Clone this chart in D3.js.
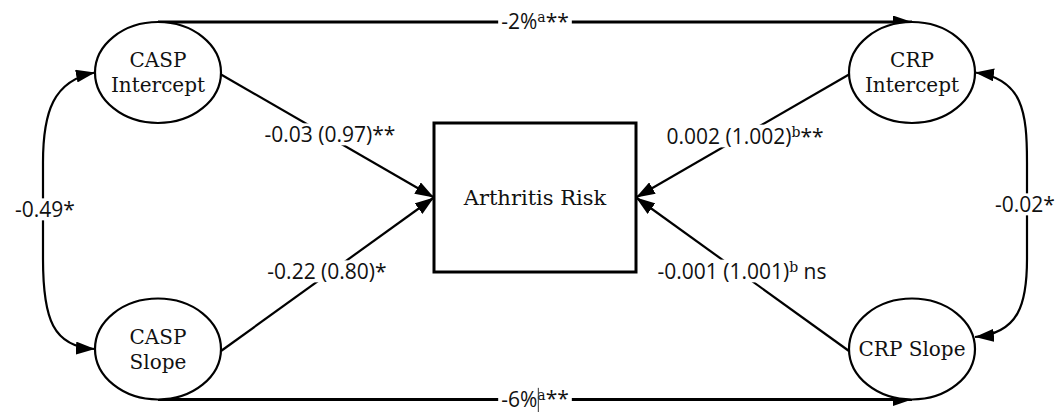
<!DOCTYPE html>
<html>
<head>
<meta charset="utf-8">
<script src="https://cdn.jsdelivr.net/npm/d3@7"></script>
<style>
  html, body { margin: 0; padding: 0; background: #fff; }
  svg { display: block; }
</style>
</head>
<body>
<svg id="chart" width="1063" height="412"></svg>
<script>
// ---------------- DATA ----------------
const latentNames = ["CASP Intercept", "CASP Slope", "CRP Intercept", "CRP Slope"];
const latentLines = [["CASP", "Intercept"], ["CASP", "Slope"], ["CRP", "Intercept"], ["CRP Slope"]];
const outcomeName = "Arthritis Risk";

// regression paths to outcome: estimate, (odds ratio), superscript, significance
const pathFrom   = ["CASP Intercept", "CASP Slope", "CRP Intercept", "CRP Slope"];
const pathMain   = ["-0.03 (0.97)", "-0.22 (0.80)", "0.002 (1.002)", "-0.001 (1.001)"];
const pathSup    = ["", "", "b", "b"];
const pathSig    = ["**", "*", "**", " ns"];

// covariances (double headed)
const covPairs   = [["CASP Intercept", "CASP Slope"], ["CRP Intercept", "CRP Slope"]];
const covLabels  = ["-0.49*", "-0.02*"];

// cross-lagged percentage paths
const crossPairs = [["CASP Intercept", "CRP Intercept"], ["CASP Slope", "CRP Slope"]];
const crossMain  = ["-2%", "-6%"];
const crossSup   = ["a", "a"];
const crossSig   = ["**", "**"];

// ---------------- LAYOUT ----------------
const svg = d3.select("#chart");
const W = 1063, H = 412;
const gx = d3.scaleLinear().domain([0, 1]).range([158, 912]);
const gy = d3.scaleLinear().domain([0, 1]).range([72.5, 349]);
const gridPos = {
  "CASP Intercept": [0, 0], "CASP Slope": [0, 1],
  "CRP Intercept": [1, 0], "CRP Slope": [1, 1]
};
const RX = 63, RY = 50.5;
const box = { x0: 434, x1: 636, y0: 123, y1: 272 };
const boxTarget = { left: [434, 197.5], right: [636, 197.5] };

const serif = "'DejaVu Serif', serif";
const sans = "'Open Sans', 'Noto Sans', sans-serif";
const LFS = 21;     // label font size
const NFS = 20;     // node font size

const defs = svg.append("defs");
function marker(id, len, wid) {
  defs.append("marker")
    .attr("id", id)
    .attr("viewBox", `0 0 ${len} ${wid}`)
    .attr("refX", len).attr("refY", wid / 2)
    .attr("markerUnits", "userSpaceOnUse")
    .attr("markerWidth", len).attr("markerHeight", wid)
    .attr("orient", "auto-start-reverse")
    .append("path")
    .attr("d", `M0,0 L${len},${wid / 2} L0,${wid} Z`)
    .attr("fill", "#000");
}
marker("arr", 19, 13);

function pos(name) {
  const g = gridPos[name];
  return [gx(g[0]), gy(g[1])];
}

const lines = svg.append("g");
const labels = svg.append("g");

// cross paths: top and bottom horizontal lines tangent to ellipses
crossPairs.forEach((pair, i) => {
  const [ax, ay] = pos(pair[0]);
  const [bx, by] = pos(pair[1]);
  const y = i === 0 ? ay - RY : ay + RY;
  lines.append("path")
    .attr("d", d3.line()([[ax, y], [bx, y]]))
    .attr("stroke", "#000").attr("stroke-width", 3).attr("fill", "none")
    .attr("marker-end", "url(#arr)");
  const lx = (ax + bx) / 2;
  const t = labels.append("text")
    .attr("x", lx).attr("y", y)
    .attr("dy", "0.35em")
    .attr("text-anchor", "middle")
    .attr("font-family", sans).attr("font-size", LFS).attr("fill", "#111")
    .attr("data-bg", "1");
  t.append("tspan").text(crossMain[i]);
  t.append("tspan").attr("font-family", serif).attr("font-size", 14).attr("dy", "-0.5em").text(crossSup[i]);
  t.append("tspan").attr("dy", "0.3em").text(crossSig[i]);
});

// covariance curves
covPairs.forEach((pair, i) => {
  const [ax, ay] = pos(pair[0]);
  const [bx, by] = pos(pair[1]);
  const side = i === 0 ? -1 : 1;
  const ex = ax + side * RX;
  const far = ex + side * 52;
  let d;
  if (i === 0) {
    d = `M${ex},${ay} C${far + 10},${ay + 8} ${far},${ay + 40} ${far},${ay + 90}`
      + ` L${far},${by - 90} C${far},${by - 30} ${far + 10},${by - 2} ${ex},${by}`;
  } else {
    const endY = by - 12;
    d = `M${ex},${ay} C${far - 4},${ay + 6} ${far},${ay + 40} ${far},${ay + 90}`
      + ` L${far},${by - 90} C${far},${by - 45} ${far - 8},${endY - 4} ${ex},${endY}`;
  }
  lines.append("path")
    .attr("d", d)
    .attr("stroke", "#000").attr("stroke-width", 2.2).attr("fill", "none")
    .attr("marker-start", "url(#arr)")
    .attr("marker-end", "url(#arr)");
  labels.append("text")
    .attr("x", far - side * 2).attr("y", i === 0 ? 210 : 205)
    .attr("dy", "0.35em").attr("text-anchor", "middle")
    .attr("font-family", sans).attr("font-size", LFS).attr("fill", "#111")
    .attr("data-bg", "1")
    .text(covLabels[i]);
});

// regression paths to outcome
const pathLabelPos = [[330, 135], [327, 272], [745, 137], [742, 272]];
pathFrom.forEach((name, i) => {
  const [cx, cy] = pos(name);
  const left = cx < W / 2;
  const sx = left ? cx + RX : cx - RX;
  const sy = cy + 2;
  const tgt = left ? boxTarget.left : boxTarget.right;
  lines.append("path")
    .attr("d", d3.line()([[sx, sy], tgt]))
    .attr("stroke", "#000").attr("stroke-width", 2.2).attr("fill", "none")
    .attr("marker-end", "url(#arr)");
  const t = labels.append("text")
    .attr("x", pathLabelPos[i][0]).attr("y", pathLabelPos[i][1])
    .attr("dy", "0.35em").attr("text-anchor", "middle")
    .attr("font-family", sans).attr("font-size", LFS).attr("fill", "#111")
    .attr("data-bg", "1");
  t.append("tspan").text(pathMain[i]);
  if (pathSup[i]) {
    t.append("tspan").attr("font-family", serif).attr("font-size", 14).attr("dy", "-0.5em").text(pathSup[i]);
    t.append("tspan").attr("dy", "0.3em").text(pathSig[i]);
  } else {
    t.append("tspan").text(pathSig[i]);
  }
});

// white backgrounds behind labels
labels.selectAll("text[data-bg]").each(function () {
  const bb = this.getBBox();
  labels.insert("rect", () => this)
    .attr("x", bb.x - 3).attr("y", bb.y + 3)
    .attr("width", bb.width + 6).attr("height", bb.height - 6)
    .attr("fill", "#fff");
});

// tiny cursor mark in bottom label
(function () {
  const t = labels.selectAll("text").filter(function () { return this.textContent.startsWith(crossMain[1]); }).node();
  if (t) {
    const first = t.querySelector("tspan");
    const bb = first.getBBox();
    labels.append("line")
      .attr("x1", bb.x + bb.width + 1).attr("x2", bb.x + bb.width + 1)
      .attr("y1", bb.y + 3).attr("y2", bb.y + bb.height)
      .attr("stroke", "#333").attr("stroke-width", 1);
  }
})();

// latent ellipses
const nodes = svg.append("g");
latentNames.forEach((name, i) => {
  const [cx, cy] = pos(name);
  nodes.append("ellipse")
    .attr("cx", cx).attr("cy", cy).attr("rx", RX).attr("ry", RY)
    .attr("fill", "#fff").attr("stroke", "#000").attr("stroke-width", 2.2);
  const ls = latentLines[i];
  const lh = 25;
  const t = nodes.append("text")
    .attr("text-anchor", "middle")
    .attr("font-family", serif).attr("font-size", NFS).attr("fill", "#111");
  ls.forEach((l, j) => {
    t.append("tspan")
      .attr("x", cx)
      .attr("y", cy + (j - (ls.length - 1) / 2) * lh)
      .attr("dy", "0.35em")
      .text(l);
  });
});

// outcome box
nodes.append("rect")
  .attr("x", box.x0).attr("y", box.y0)
  .attr("width", box.x1 - box.x0).attr("height", box.y1 - box.y0)
  .attr("fill", "#fff").attr("stroke", "#000").attr("stroke-width", 3);
nodes.append("text")
  .attr("x", (box.x0 + box.x1) / 2).attr("y", 198)
  .attr("dy", "0.35em").attr("text-anchor", "middle")
  .attr("font-family", serif).attr("font-size", NFS + 1).attr("fill", "#111")
  .text(outcomeName);
</script>
</body>
</html>
